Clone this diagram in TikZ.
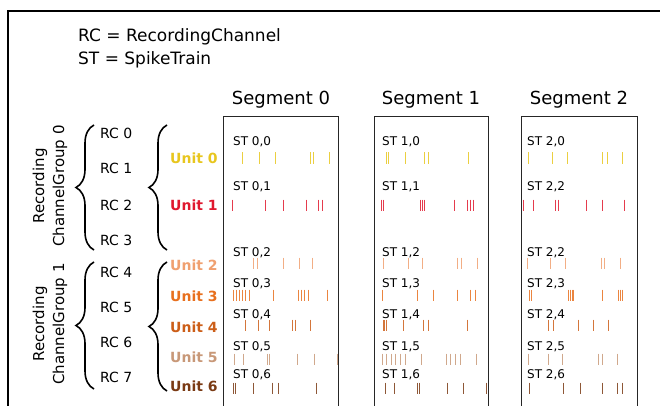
\documentclass[tikz,border=0pt]{standalone}
\usepackage{fontspec}
\setmainfont{DejaVu Sans}
\usetikzlibrary{decorations.pathreplacing}
\definecolor{uzero}{HTML}{E8C61E}
\definecolor{uone}{HTML}{E0182E}
\definecolor{utwo}{HTML}{F0A070}
\definecolor{uthree}{HTML}{E8701E}
\definecolor{ufour}{HTML}{CC5E18}
\definecolor{ufive}{HTML}{C89878}
\definecolor{usix}{HTML}{7A3A14}
\newcommand{\spk}[3]{\foreach \sx in {#3} {\draw[#1!85!white, line width=0.8pt] (\sx,#2-5.5) -- (\sx,#2+5.5);}}
\begin{document}
\begin{tikzpicture}[x=1pt,y=-1pt,
  hdr/.style={anchor=west, inner sep=0pt, font=\fontsize{17}{20}\selectfont},
  seglabel/.style={font=\fontsize{18}{20}\selectfont, inner sep=0pt},
  rclabel/.style={anchor=west, inner sep=0pt, font=\fontsize{14}{16}\selectfont},
  unitlabel/.style={anchor=west, inner sep=0pt, font=\fontsize{14}{16}\selectfont\bfseries},
  stlabel/.style={anchor=west, inner sep=0pt, font=\fontsize{12}{14}\selectfont},
  grouplabel/.style={rotate=90, align=center, inner sep=0pt, font=\fontsize{15}{20}\selectfont},
  segbox/.style={draw=black!85, line width=1pt},
  bracestyle/.style={decorate, decoration={brace, amplitude=18pt}, line width=1.6pt},
]
\useasboundingbox (0,0) rectangle (660,406);
\fill[white] (0,0) rectangle (660,406);
\draw[line width=1.4pt] (8,406) -- (8,11) -- (661,11);

% header
\node[hdr] (lg1) at (78,37) {RC = RecordingChannel};
\node[hdr] (lg2) at (78,60) {ST = SpikeTrain};

% segment boxes
\draw[segbox] (223,407) -- (223,117) -- (338,117) -- (338,407);
\draw[segbox] (374,407) -- (374,117) -- (488,117) -- (488,407);
\draw[segbox] (521,407) -- (521,117) -- (637,117) -- (637,407);
\node[seglabel] (s0) at (281,100) {Segment 0};
\node[seglabel] (s1) at (431,100) {Segment 1};
\node[seglabel] (s2) at (579,100) {Segment 2};

% group labels
\node[grouplabel] (g0) at (50,186) {Recording\\ChannelGroup 0};
\node[grouplabel] (g1) at (50,324) {Recording\\ChannelGroup 1};

% RC labels
\node[rclabel] (rc0) at (100,133) {RC 0};
\node[rclabel] (rc1) at (100,168) {RC 1};
\node[rclabel] (rc2) at (100,205) {RC 2};
\node[rclabel] (rc3) at (100,240) {RC 3};
\node[rclabel] (rc4) at (100,272) {RC 4};
\node[rclabel] (rc5) at (100,307) {RC 5};
\node[rclabel] (rc6) at (100,342) {RC 6};
\node[rclabel] (rc7) at (100,377) {RC 7};

% Unit labels
\node[unitlabel, text=uzero] (u0) at (170,158) {Unit 0};
\node[unitlabel, text=uone] (u1) at (170,205) {Unit 1};
\node[unitlabel, text=utwo] (u2) at (170,265) {Unit 2};
\node[unitlabel, text=uthree] (u3) at (170,296) {Unit 3};
\node[unitlabel, text=ufour] (u4) at (170,327) {Unit 4};
\node[unitlabel, text=ufive] (u5) at (170,357) {Unit 5};
\node[unitlabel, text=usix] (u6) at (170,386) {Unit 6};

% braces
\coordinate (b0a) at (94,250); \coordinate (b0b) at (94,125);
\coordinate (b1a) at (94,389); \coordinate (b1b) at (94,262);
\coordinate (c0a) at (167,250); \coordinate (c0b) at (167,125);
\coordinate (c1a) at (167,391); \coordinate (c1b) at (167,262);
\draw[bracestyle] (b0a) -- (b0b);
\draw[bracestyle] (b1a) -- (b1b);
\draw[bracestyle] (c0a) -- (c0b);
\draw[bracestyle] (c1a) -- (c1b);

% ST labels
\foreach \sg/\sxx in {0/233,1/382,2/527} {
  \node[stlabel] (st\sg a) at (\sxx,142) {ST \sg,0};
  \node[stlabel] (st\sg c) at (\sxx,253) {ST \sg,2};
  \node[stlabel] (st\sg d) at (\sxx,284) {ST \sg,3};
  \node[stlabel] (st\sg e) at (\sxx,315) {ST \sg,4};
  \node[stlabel] (st\sg f) at (\sxx,347) {ST \sg,5};
  \node[stlabel] (st\sg g) at (\sxx,375) {ST \sg,6};
}
\node[stlabel] (st0b) at (233,187) {ST 0,1};
\node[stlabel] (st1b) at (382,187) {ST 1,1};
\node[stlabel] (st2b) at (527,187) {ST 2,2};

% spikes segment 0
\spk{uzero}{158}{242,259,275,310,313,329}
\spk{uone}{205}{232,265,283,306,318,322}
\spk{utwo}{263}{253,257,283,299,312}
\spk{uthree}{295}{233,236,239,242,245,249,273,298,301,304,308,327}
\spk{ufour}{325}{245,258,269,292,295,310}
\spk{ufive}{359}{234,243,267,269,297,314,337}
\spk{usix}{388}{233,235,253,272,278,316}

% spikes segment 1
\spk{uzero}{158}{386,388,405,424,428,468}
\spk{uone}{205}{381,383,420,422,424,454,467,470,473}
\spk{utwo}{263}{383,408,422,457,461,477}
\spk{uthree}{295}{382,417,433,457,470,475}
\spk{ufour}{325}{383,384,386,403,423,428,467}
\spk{ufive}{359}{382,386,391,395,400,405,421,446,450,455,460,476}
\spk{usix}{388}{385,394,417,419,447,463,486}

% spikes segment 2
\spk{uzero}{158}{528,552,567,602,607,622}
\spk{uone}{205}{523,533,555,558,586,602,624}
\spk{utwo}{263}{527,550,565,601,604,620}
\spk{uthree}{295}{529,531,568,570,572,573,602,618,620,622}
\spk{ufour}{325}{548,553,578,593,608}
\spk{ufive}{359}{528,548,562,598,602,617}
\spk{usix}{388}{529,563,580,602,617,622}
\end{tikzpicture}
\end{document}
